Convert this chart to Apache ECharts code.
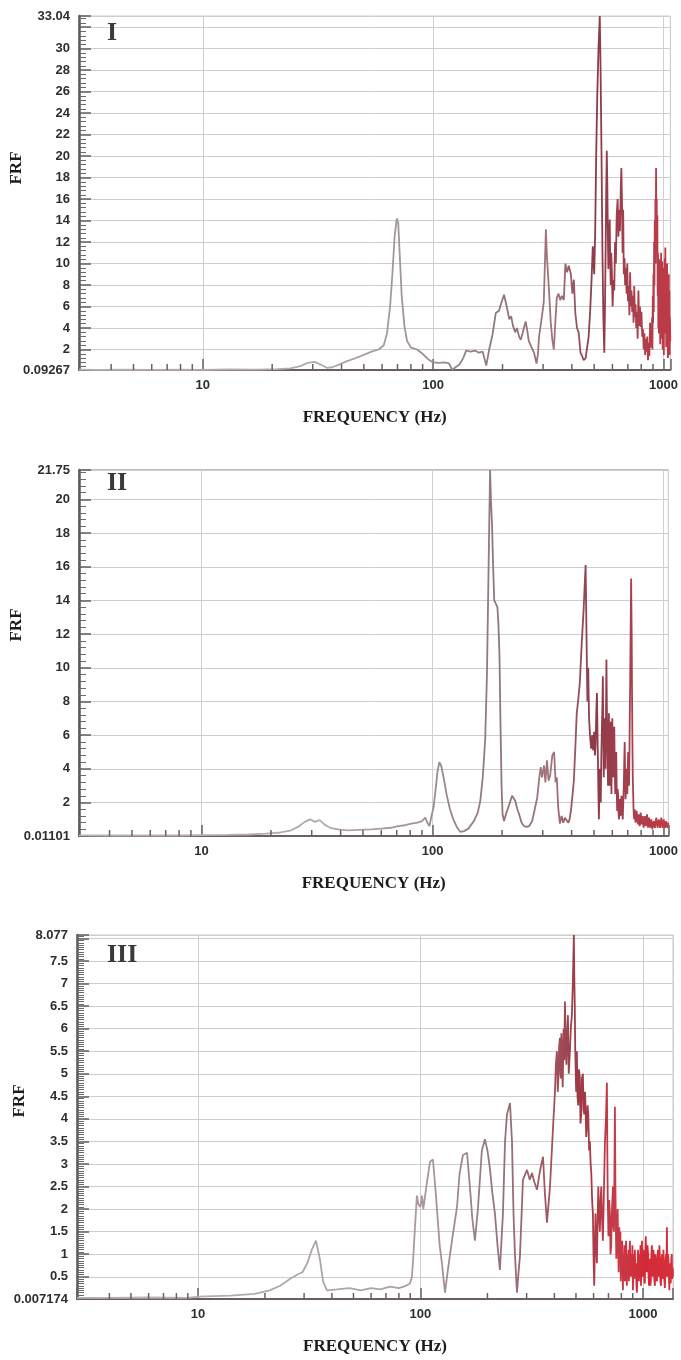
<!DOCTYPE html>
<html>
<head>
<meta charset="utf-8">
<script src="https://cdn.jsdelivr.net/npm/echarts@6/dist/echarts.min.js"></script>
<style>
  html, body { margin: 0; padding: 0; background: #ffffff; }
  #chart { width: 681px; height: 1360px; }
</style>
</head>
<body>
<div id="chart"></div>
<script>
// Frequency response function (FRF) magnitude versus frequency, three configurations.

const panelLabels = ['I', 'II', 'III'];
const xAxisTitle = 'FREQUENCY (Hz)';
const yAxisTitle = 'FRF';

// Frequency extent of each panel (Hz)
const freqRangeI = [2.9, 1070];
const freqRangeII = [2.95, 1050];
const freqRangeIII = [2.86, 1365];

// FRF extent and major step of each panel
const frfRangeI = [0.09267, 33.04];
const frfRangeII = [0.01101, 21.75];
const frfRangeIII = [0.007174, 8.077];
const frfStepI = 2;
const frfStepII = 2;
const frfStepIII = 0.5;

// Minor frequency ticks drawn between decades
const minorFreqTicks = [4, 5, 6, 7, 8, 9, 20, 30, 40, 50, 60, 70, 80, 90, 200, 300, 400, 500, 600, 700, 800, 900];

// [frequency Hz, FRF]
const frfI = [
  [2.9,0.12],[3.5,0.1],[4.5,0.12],[6,0.1],[8,0.12],[10,0.1],[13,0.14],[17,0.12],[21,0.18],[24,0.25],
  [26.5,0.45],[28.5,0.75],[30.5,0.85],[32.5,0.6],[34.5,0.3],[36.5,0.35],[39,0.6],[42,0.9],[46,1.2],[50,1.5],
  [54,1.8],[58,2.0],[61,2.4],[63,3.5],[65,6],[66.5,9],[68,12.5],[69.5,14.2],[70.5,13.8],[71.5,11],
  [73,7],[75,4.2],[77,2.8],[80,2.2],[85,2.0],[90,1.6],[95,1.1],[100,0.8],[106,0.75],[112,0.8],
  [117,0.7],[121,0.12],[125,0.35],[130,0.6],[135,1.2],[139,1.9],[145,1.8],[152,1.9],[158,1.7],[164,1.8],
  [170,0.5],[175,2.0],[181,3.4],[187,5.4],[193,5.6],[198,6.4],[203,7.1],[207,6.3],[210,5.7],[214,4.8],
  [218,5.1],[222,4.2],[227,3.6],[231,4.0],[236,3.2],[240,2.9],[245,3.6],[252,4.6],[256,3.8],[260,2.8],
  [266,2.3],[274,1.7],[281,0.7],[285,1.6],[288,3.2],[294,4.5],[302,6.4],[305,9.5],[308.5,13.2],[312,10.5],
  [318,7.6],[324,4.5],[329,2.9],[334,2.0],[339,4.5],[344,6.8],[350,7.2],[356,6.6],[362,7.0],[369,6.6],
  [375,10.0],[381,9.2],[388,9.8],[396,9.0],[402,7.2],[408,8.5],[414,5.4],[421,4.0],[428,3.6],[436,1.7],
  [443,1.4],[450,1.0],[459,1.2],[466,2.2],[473,3.2],[480,5.5],[487,8.5],[493,11.6],[500,9.0],[505,13],
  [510,20],[516,26],[522,30],[528.6,33.04],[533,28],[538,20],[543,11],[548,5],[553,1.7],[557,6],
  [561,12],[564,17],[567,20.5],[570,17.5],[573,13],[576,9.5],[580,12],[584,14.1],[587,10],[590,8],
  [593,11],[597,9],[601,6],[606,8.5],[611,7.5],[616,12],[621,10],[626,14.5],[632,16],[637,12.5],
  [642,15],[647,13],[652,17],[656,18.9],[660,16],[664,11],[668,15],[672,9],[677,10.5],[681,8],
  [686,9.6],[691,7.2],[696,10],[701,6.5],[706,7.9],[711,5.2],[716,9.2],[721,6],[726,7.5],[731,5.5],
  [736,7.0],[741,4.5],[746,7.9],[751,5.0],[756,6.2],[761,4.0],[766,5.5],[772,3.0],[778,7.5],[784,4.2],
  [790,6.0],[796,4.1],[802,5.5],[808,3.2],[814,3.9],[820,2.0],[826,3.5],[832,1.5],[838,3.0],[844,1.8],
  [850,3.2],[856,1.0],[862,2.6],[868,1.4],[874,4.5],[880,2.2],[884,4.0],[888,2.6],[892,5.0],[895,2.0],
  [898,7.0],[901,4.5],[904,9.0],[907,5.5],[910,12],[913,8],[916,14],[919,10],[922,16],[925,12.5],
  [928,18.9],[931,13],[934,16],[937,10],[940,14.5],[943,7],[946,11],[949,4],[952,9],[955,3.5],
  [958,10.4],[961,5],[964,9.8],[967,2.5],[970,8.6],[973,4.2],[976,11],[979,3.0],[982,9.2],[985,5.5],
  [988,10.2],[991,2.0],[994,8.0],[997,4.8],[1000,9.6],[1003,1.5],[1006,8.8],[1009,5.0],[1012,10.5],[1015,3.5],
  [1018,11.5],[1021,6.0],[1024,9.0],[1027,2.2],[1030,8.5],[1033,4.8],[1036,10.0],[1039,3.0],[1042,7.8],[1045,1.2],
  [1048,6.5],[1051,3.5],[1054,9.0],[1057,2.0],[1060,7.5],[1063,1.5],[1066,5.0],[1070,2.8]
];

const frfII = [
  [2.95,0.05],[4,0.04],[6,0.05],[8,0.04],[10,0.06],[13,0.08],[16,0.1],[19,0.15],[22,0.22],[24.5,0.35],
  [26.5,0.6],[28,0.85],[29.5,1.0],[31,0.85],[32.5,0.95],[34,0.7],[36,0.5],[39,0.4],[43,0.35],[48,0.38],
  [54,0.4],[60,0.45],[66,0.5],[71,0.6],[76,0.65],[81,0.75],[86,0.8],[90,0.9],[93,1.1],[95,0.8],
  [97,0.6],[99,1.2],[101,1.7],[103,2.7],[105,3.8],[107,4.4],[109,4.2],[112,3.4],[115,2.5],[119,1.6],
  [123,1.0],[128,0.5],[132,0.25],[137,0.3],[143,0.45],[151,0.9],[157,1.4],[161,2.1],[165,3.5],[169,5.7],
  [172,9.5],[174,14],[176,18.5],[177.5,21.75],[179,20],[181,18.5],[183,16],[185,14],[188,13.9],[191,13.6],
  [193,12.5],[195,10.6],[197,6.5],[199,3],[201,1.3],[204,0.9],[209,1.4],[215,1.9],[221,2.4],[228,2.1],
  [233,1.6],[237,1.3],[243,0.8],[249,0.6],[256,0.55],[262,0.6],[270,0.9],[277,1.6],[284,2.3],[290,3.5],
  [294,4.1],[298,3.5],[304,4.2],[308,3.2],[313,4.5],[318,3.3],[323,3.6],[330,4.8],[336,5.0],[341,3.2],
  [345,3.5],[350,1.7],[356,0.75],[362,1.2],[368,0.8],[374,1.1],[381,1.2],[387,0.8],[392,1.0],[398,1.6],
  [404,2.5],[409,3.3],[415,5.2],[421,7.3],[428,8.2],[434,9.1],[443,11.6],[451,13.5],[456,15],[460,16.1],
  [464,12],[468,8],[472,10],[476,7],[481,5.9],[486,5.2],[491,6],[496,5.1],[501,6.2],[505,4.8],
  [508,5.5],[512,7.5],[515,8.5],[518,6.0],[520,4.5],[523,2.2],[525,1.0],[528,3.0],[530,4.0],[533,2.8],
  [535,2.0],[538,4.8],[541,6.5],[544,7.8],[546,9.5],[549,6.0],[551,3.5],[554,5.5],[556,7.0],[559,5.2],
  [561,4.0],[564,8.0],[566,10.5],[568,8.2],[570,6.0],[573,4.5],[575,3.0],[578,5.5],[580,7.3],[583,5.0],
  [585,3.0],[588,5.2],[590,6.8],[593,4.0],[595,2.5],[598,5.5],[600,7.0],[603,5.0],[606,3.5],[609,5.0],
  [612,6.5],[615,4.0],[618,2.5],[621,4.2],[624,5.0],[627,2.8],[630,1.5],[633,2.8],[636,2.5],[639,1.3],
  [642,1.0],[645,2.0],[648,2.2],[651,1.2],[654,1.5],[657,2.4],[660,2.2],[663,1.4],[666,1.0],[670,2.2],
  [673,3.0],[676,4.4],[679,5.6],[682,3.5],[685,2.2],[688,3.2],[691,4.0],[694,3.0],[697,2.5],[700,4.0],
  [703,5.0],[706,3.8],[709,3.0],[712,5.0],[714,7.0],[717,9.0],[719,11],[722,13.5],[724,15.3],[726,13.5],
  [728,12],[730,9],[732,7],[734,5],[736,3.5],[739,2.5],[741,1.7],[744,1.2],[747,1.0],[750,1.6],
  [754,1.5],[757,0.8],[761,0.9],[764,1.5],[768,1.4],[772,0.9],[776,0.7],[780,1.3],[784,1.2],[788,0.6],
  [792,0.8],[796,1.4],[800,1.3],[804,0.7],[808,0.6],[812,1.2],[816,1.1],[820,0.5],[825,0.5],[830,1.2],
  [834,1.3],[838,0.6],[843,0.6],[848,1.3],[852,1.2],[856,0.5],[861,0.5],[866,1.1],[870,1.0],[875,0.5],
  [880,0.4],[885,1.0],[890,0.9],[895,0.4],[900,0.3],[906,0.9],[912,1.0],[918,0.5],[924,0.6],[930,1.1],
  [936,1.1],[942,0.5],[948,0.4],[954,1.0],[960,1.0],[966,0.5],[972,0.5],[978,1.1],[984,1.0],[990,0.5],
  [996,0.6],[1002,1.0],[1008,1.0],[1014,0.5],[1020,0.5],[1026,0.9],[1032,0.9],[1038,0.5],[1044,0.6],[1050,0.8]
];

const frfIII = [
  [2.86,0.03],[4,0.03],[6,0.04],[9,0.03],[10,0.06],[14,0.08],[18,0.12],[21,0.2],[23.4,0.3],[25.9,0.45],
  [28,0.55],[29.5,0.6],[31,0.8],[32.5,1.1],[33.9,1.3],[35.3,0.9],[36.5,0.4],[38,0.2],[42,0.22],[48,0.25],
  [54,0.2],[60,0.25],[66,0.22],[73,0.28],[80,0.25],[86,0.3],[89.7,0.35],[91.6,0.5],[93,1.0],[94.5,1.6],
  [96.4,2.3],[98,2.1],[100,2.05],[101.6,2.3],[103,2.0],[104.8,2.0],[107,2.6],[110.4,3.05],[113.8,3.1],[117,2.4],
  [119.9,1.7],[122,1.2],[124.9,0.8],[128.9,0.15],[132.9,0.66],[138.6,1.3],[146,2.05],[150,2.8],[155.3,3.2],[161.9,3.25],
  [166.8,2.5],[171,1.8],[175.7,1.3],[181.2,2.0],[188.8,3.3],[194.9,3.55],[200,3.3],[205.3,2.9],[210,2.4],[216.2,1.9],
  [222,1.2],[227.6,0.65],[234.8,1.9],[240,3.5],[244.8,4.1],[252.6,4.35],[257.9,3.5],[262,1.9],[265.9,1.0],[271.5,0.15],
  [276,0.6],[280,0.95],[288.9,2.65],[301.2,2.87],[310,2.65],[317.2,2.8],[325,2.6],[334.1,2.43],[344.6,2.85],[355.5,3.16],
  [362,2.4],[370.5,1.7],[382.2,2.5],[394.3,3.8],[402.3,4.6],[406,5.2],[410.6,5.5],[414,4.6],[417,4.9],[420,5.6],
  [423.6,5.8],[426,5.0],[428,4.9],[430,5.9],[432.4,5.4],[436,4.7],[440,6.0],[443,5.3],[446,6.6],[449,5.8],
  [453,5.2],[456,5.9],[460.1,6.3],[464,5.0],[469.6,5.5],[474,6.0],[479.3,6.3],[484,7.0],[489.2,8.077],[492,7.0],
  [494,6.5],[496,5.6],[498,5.2],[501,4.6],[504.7,5.5],[508,4.5],[512,4.3],[516,5.1],[520.6,4.9],[524,3.9],
  [528,4.1],[532,4.9],[537.1,5.0],[541,4.2],[545,4.1],[549,4.6],[552,4.3],[556,3.6],[559.8,3.8],[564,4.3],
  [568,4.1],[573,3.3],[577.5,3.5],[582,3.0],[586,2.8],[591,2.2],[595.8,1.9],[600,0.9],[604,0.3],[608,1.2],
  [612,1.9],[616,1.2],[621,0.8],[626,1.8],[630,2.5],[635,1.9],[640.6,1.5],[645,2.2],[650,2.5],[655,1.8],
  [660.9,1.3],[668,2.4],[675,3.5],[682,4.0],[688.8,4.8],[692,3.2],[695,2.2],[700,1.4],[705,2.2],[710.6,1.9],
  [715,1.0],[720,1.2],[726,2.0],[733.1,2.5],[737,1.6],[741,1.5],[745,3.0],[748.3,4.27],[752,2.6],[755,1.8],
  [759,0.9],[763.8,1.2],[767,1.7],[770,2.0],[774,1.1],[778,0.6],[783,1.6],[788,0.9],[792,1.5],[795,0.4],
  [799,1.2],[803,0.7],[807,1.3],[812.9,0.2],[817,1.0],[821,0.5],[826,1.2],[830,0.4],[835,0.9],[840,1.3],
  [844,0.6],[847,0.3],[852,1.0],[856,0.5],[861,1.1],[865,0.4],[870,0.9],[874,1.3],[879,0.7],[883,0.5],
  [888,1.0],[892,0.6],[897,1.2],[901.8,0.2],[906,0.8],[910,1.0],[915,0.45],[920,1.1],[925,0.5],[930,0.8],
  [935,0.3],[940,0.15],[945,0.7],[950,1.1],[955,0.6],[960,0.4],[965,1.0],[969.7,0.7],[975,1.2],[980,0.3],
  [985,0.9],[990,1.3],[995,0.6],[1000,0.5],[1005,1.1],[1010,0.9],[1015,0.4],[1020,0.35],[1025,1.0],[1030,1.4],
  [1036,0.7],[1042,0.6],[1048,1.2],[1055,1.0],[1060,0.5],[1065,0.3],[1070,0.9],[1075,0.8],[1080,0.3],[1085,0.4],
  [1091,1.0],[1097,1.2],[1103,0.6],[1109,0.5],[1115,1.1],[1120,0.9],[1126,0.4],[1132,0.3],[1138,1.0],[1144,0.8],
  [1150,0.5],[1156,0.4],[1162,0.9],[1168,1.1],[1174,0.6],[1180,0.5],[1186,1.2],[1192,0.9],[1198,0.4],[1205,0.3],
  [1211,0.8],[1218,1.0],[1224,0.6],[1230,0.45],[1236,1.1],[1243,0.7],[1249,0.4],[1256,0.25],[1262,0.8],[1269,1.0],
  [1275,0.5],[1282,1.6],[1286,0.9],[1290,0.5],[1296,1.0],[1302,0.9],[1308,0.5],[1314,0.2],[1318,0.7],[1322,0.8],
  [1328,0.35],[1335,0.4],[1341,0.9],[1348,1.0],[1354,0.45],[1360,0.7],[1365,0.5]
];

// Line colour drifts from grey at low frequency to red at high frequency
const lineStopsLow = [
  [0, '#bab3b8'], [0.42, '#b2a8ad'], [0.6, '#9a8d8f'], [0.72, '#8e7578'],
  [0.8, '#a3747c'], [0.87, '#8c3a48'], [0.93, '#a8404e'], [1, '#c23845']
];
const lineStopsHigh = [
  [0, '#bab3b8'], [0.52, '#aca2a6'], [0.6, '#a8949a'], [0.7, '#94777d'],
  [0.79, '#a0565f'], [0.84, '#9c3a46'], [0.9, '#c83a48'], [0.95, '#d42a38'], [1, '#d8303c']
];

const panels = [
  { label: panelLabels[0], freq: freqRangeI, frf: frfRangeI, step: frfStepI, minorSplit: 5, data: frfI,
    stops: lineStopsLow, grid: { left: 79, right: 9, top: 16, height: 354 }, border: '#c8c8c8',
    labelPos: [107, 35], namePos: [17, 168] },
  { label: panelLabels[1], freq: freqRangeII, frf: frfRangeII, step: frfStepII, minorSplit: 5, data: frfII,
    stops: lineStopsLow, grid: { left: 79, right: 8, top: 470, height: 366 }, border: '#857b7c',
    labelPos: [107, 485], namePos: [17, 625] },
  { label: panelLabels[2], freq: freqRangeIII, frf: frfRangeIII, step: frfStepIII, minorSplit: 10, data: frfIII,
    stops: lineStopsHigh, grid: { left: 77, right: 8, top: 935, height: 364 }, border: '#c8c8c8',
    labelPos: [107, 957], namePos: [20, 1101] }
];

const isDecade = v => {
  const e = Math.log10(v);
  return Math.abs(e - Math.round(e)) < 1e-6;
};
const plainNumber = v => String(+(+v).toFixed(6));

const grids = [], xAxes = [], yAxes = [], series = [], graphics = [];

panels.forEach((p, i) => {
  grids.push(Object.assign({ show: true, borderColor: p.border, borderWidth: 1, backgroundColor: 'transparent' }, p.grid));

  xAxes.push({
    type: 'log', logBase: 10, gridIndex: i, min: p.freq[0], max: p.freq[1],
    name: xAxisTitle, nameLocation: 'middle', nameGap: 39,
    nameTextStyle: { fontFamily: 'Liberation Serif', fontWeight: 'bold', fontSize: 17, color: '#1c1c1c' },
    axisLine: { show: true, onZero: false, lineStyle: { color: '#6a6062', width: 2 } },
    axisTick: { show: true, inside: true, length: 11, lineStyle: { color: '#6a6062', width: 1.5 } },
    axisLabel: { margin: 9, fontFamily: 'Liberation Sans', fontWeight: 'bold', fontSize: 13, color: '#2e2e2e',
      formatter: v => isDecade(v) ? String(Math.round(v)) : '' },
    splitLine: { show: true, lineStyle: { color: '#cfcfcf', width: 1 } }
  });

  yAxes.push({
    type: 'value', gridIndex: i, min: p.frf[0], max: p.frf[1],
    splitNumber: 20, minInterval: p.step, maxInterval: p.step,
    axisLine: { show: true, onZero: false, lineStyle: { color: '#575757', width: 2.5 } },
    axisTick: { show: true, inside: true, length: 12, lineStyle: { color: '#606060', width: 1.5 } },
    minorTick: { show: true, splitNumber: p.minorSplit, length: 7, lineStyle: { color: '#6a6a6a', width: 1 } },
    axisLabel: { margin: 9, fontFamily: 'Liberation Sans', fontWeight: 'bold', fontSize: 13, color: '#2e2e2e',
      showMinLabel: true, showMaxLabel: true, formatter: plainNumber },
    splitLine: { show: true, lineStyle: { color: '#cdcdcd', width: 1 } }
  });

  series.push({
    type: 'line', xAxisIndex: i, yAxisIndex: i, data: p.data,
    showSymbol: false, symbol: 'none', smooth: false, sampling: null, clip: true,
    lineStyle: {
      width: 1.8,
      color: new echarts.graphic.LinearGradient(0, 0, 1, 0,
        p.stops.map(s => ({ offset: s[0], color: s[1] })))
    },
    z: 3
  });

  // minor frequency ticks inside the bottom axis
  series.push({
    type: 'custom', xAxisIndex: i, yAxisIndex: i, silent: true, clip: false, z: 4,
    data: minorFreqTicks.filter(f => f > p.freq[0] && f < p.freq[1]).map(f => [f, p.frf[0]]),
    renderItem: (params, api) => {
      const pt = api.coord([api.value(0), api.value(1)]);
      return { type: 'line', shape: { x1: pt[0], y1: pt[1], x2: pt[0], y2: pt[1] - 6 },
        style: { stroke: '#6a6062', lineWidth: 1.5 } };
    }
  });

  graphics.push({
    type: 'text', left: p.labelPos[0], top: p.labelPos[1] - 15, z: 10,
    style: { text: p.label, font: 'bold 26px "Liberation Serif"', fill: '#3a3a3a' }
  });
  graphics.push({
    type: 'text', x: p.namePos[0], y: p.namePos[1], rotation: Math.PI / 2, z: 10,
    style: { text: yAxisTitle, font: 'bold 17px "Liberation Serif"', fill: '#1c1c1c',
      align: 'center', verticalAlign: 'middle' }
  });
});

const chart = echarts.init(document.getElementById('chart'), null, { renderer: 'canvas' });
chart.setOption({
  animation: false,
  backgroundColor: '#ffffff',
  grid: grids,
  xAxis: xAxes,
  yAxis: yAxes,
  series: series,
  graphic: graphics
});
</script>
</body>
</html>
